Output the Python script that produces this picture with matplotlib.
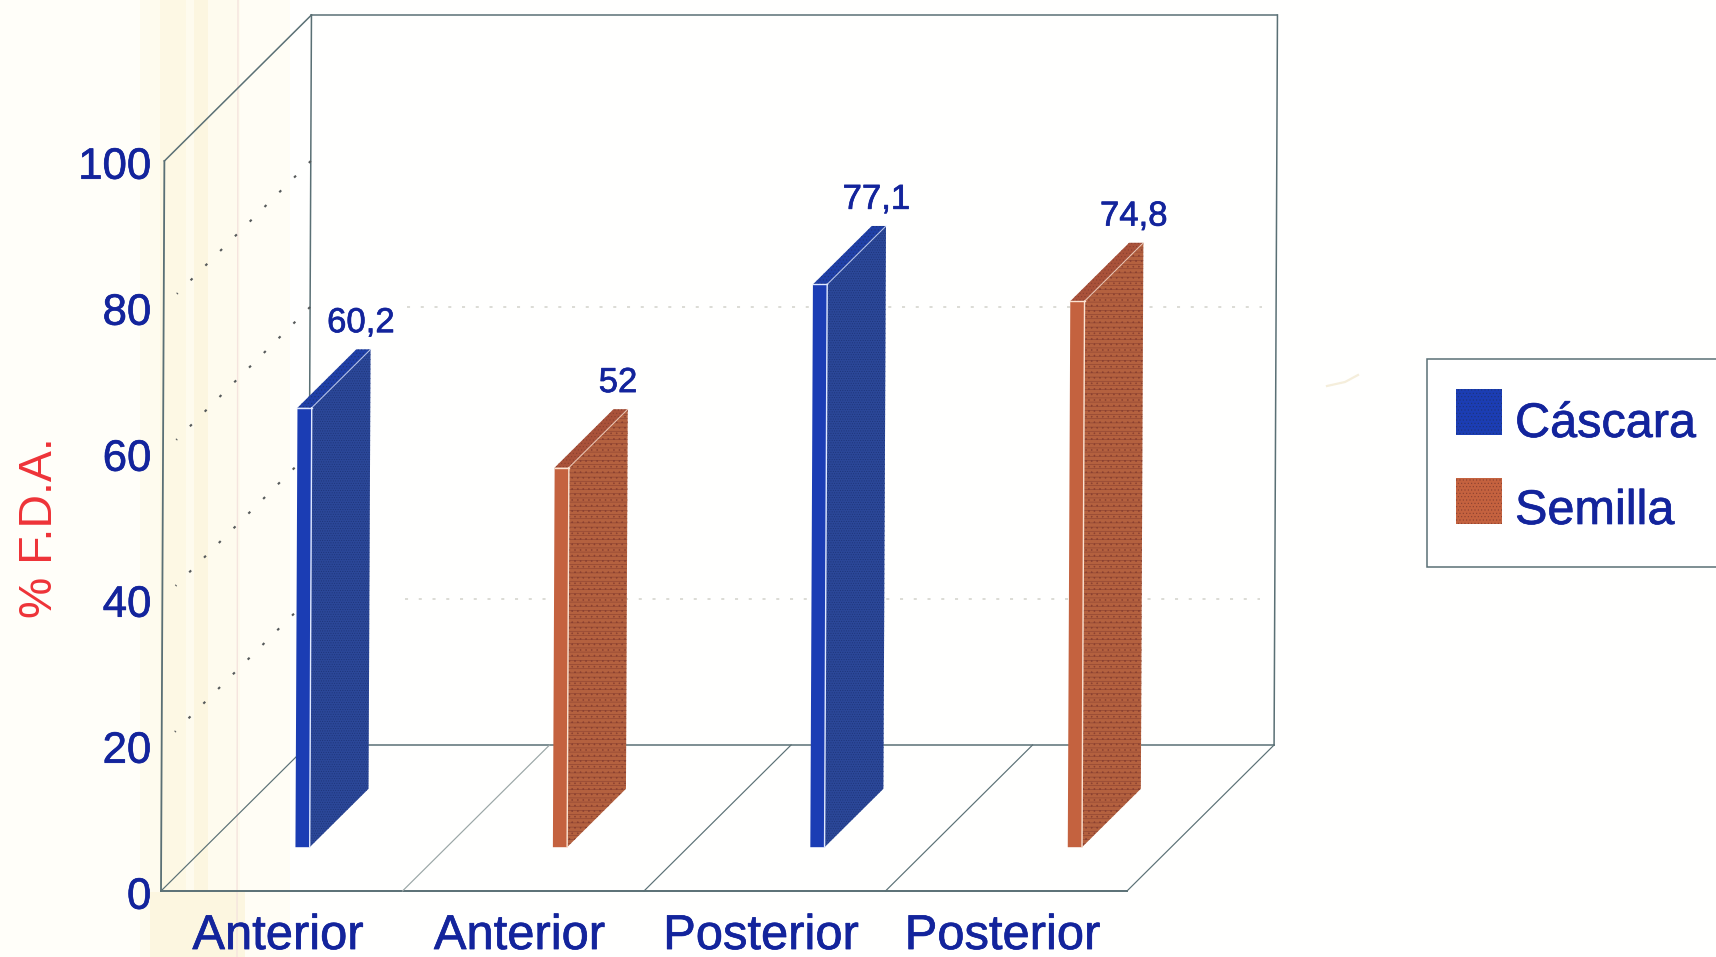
import matplotlib
matplotlib.use('Agg')
import matplotlib.pyplot as plt
import matplotlib.patheffects as pe
from matplotlib.patches import Polygon, Rectangle

# data
categories = ['Anterior', 'Anterior', 'Posterior', 'Posterior']
values = [60.2, 52, 77.1, 74.8]
value_labels = ['60,2', '52', '77,1', '74,8']
series = ['Cáscara', 'Semilla', 'Cáscara', 'Semilla']
legend_names = ['Cáscara', 'Semilla']
y_ticks = [0, 20, 40, 60, 80, 100]
wall_grid = [20, 40, 60, 80]
back_grid = [20, 60]

plt.rcParams['font.family'] = ['Liberation Sans', 'DejaVu Sans']
plt.rcParams['hatch.linewidth'] = 0.4

NAVY = '#13249c'
RED = '#ee3338'
FRAME = '#5a7075'
COLORS = {
    'Cáscara': dict(front='#1b3db4', side='#2b4798', top='#1f3fa6', grain='#1d3478', seam='#dfe8ff',
                    texture='.......'),
    'Semilla': dict(front='#c4623f', side='#b4613f', top='#a9523a', grain='#8a4030', seam='#fbe3d2',
                    texture='----...'),
}
# thickens glyphs a little, the print is heavy
HEAVY = [pe.withStroke(linewidth=0.5, foreground=NAVY)]

fig = plt.figure(figsize=(17.16, 9.57), dpi=100, facecolor='#fffefc')

# paper tone behind everything, in pixels
bg = fig.add_axes([0, 0, 1, 1], zorder=0)
bg.set_xlim(0, 1716)
bg.set_ylim(957, 0)
bg.axis('off')
bg.add_patch(Rectangle((0, 0), 140, 957, color='#fffef9', lw=0))
bg.add_patch(Rectangle((140, 0), 100, 957, color='#fefbee', lw=0))
bg.add_patch(Rectangle((160, 0), 26, 957, color='#fdf8e4', lw=0))
bg.add_patch(Rectangle((194, 0), 14, 957, color='#fcf6e0', lw=0))
bg.add_patch(Rectangle((240, 0), 50, 957, color='#fffdf5', lw=0))
bg.add_patch(Rectangle((150, 892), 95, 65, color='#fcf6e0', lw=0))
bg.add_patch(Rectangle((290, 0), 1426, 957, color='#fffffe', lw=0))
bg.plot([238, 237], [0, 957], color='#f5e4de', lw=1)
bg.plot([1327, 1345, 1358], [386, 382, 375], color='#f5eedb', lw=1.6)

# chart axes: x in category units, y in % units, front wall of the box
ax = fig.add_axes([161 / 1716, 66 / 957, 966 / 1716, 730 / 957], zorder=1)
ax.set_xlim(0, 4)
ax.set_ylim(0, 100)
ax.axis('off')
ax.patch.set_alpha(0)

DX = 0.609   # oblique shift of full depth, in category units
DY = 20.0    # same, in % units
LEAN = 0.00014  # slight lean of the verticals


def project(x, y, d=0.0):
    return x + d * DX + y * LEAN, y + d * DY


def frame_line(p, q, color=FRAME, lw=1.1, z=2):
    a = project(*p)
    b = project(*q)
    ax.plot([a[0], b[0]], [a[1], b[1]], color=color, lw=lw, clip_on=False, zorder=z,
            solid_capstyle='projecting')


# walls and floor
frame_line((0, 0, 0), (0, 100, 0), lw=1.3)
frame_line((0, 100, 0), (0, 100, 1))
frame_line((0, 100, 1), (4, 100, 1))
frame_line((0, 100, 1), (0, 0, 1))
frame_line((4, 100, 1), (4, 0, 1))
frame_line((0, 0, 1), (4, 0, 1))
frame_line((0, 0, 0), (4, 0, 0), lw=1.4)
for i in range(5):
    frame_line((i, 0, 0), (i, 0, 1), color='#9aa6a6' if i == 1 else FRAME, lw=0.85)

# dotted grid on the left wall and the back wall
for v in wall_grid:
    a = project(0, v, 1)
    b = project(0, v, 0.09)
    ax.plot([a[0], b[0]], [a[1], b[1]], color='#55595a', lw=1.5, clip_on=False, zorder=2,
            linestyle=(0, (1.3, 8.7)))
for v in back_grid:
    a = project(0.40, v, 1)
    b = project(4, v, 1)
    ax.plot([a[0], b[0] - 0.06], [a[1], b[1]], color='#d2d2cb', lw=1.1, clip_on=False, zorder=2,
            linestyle=(0, (2, 7)))

# bars
bar_start = 0.374
bar_step = 1.066
bar_w = 0.059
d0, d1 = 0.30, 0.70

for i, (val, lab, ser) in enumerate(zip(values, value_labels, series)):
    c = COLORS[ser]
    x0 = bar_start + i * bar_step
    x1 = x0 + bar_w
    front = [project(x0, 0, d0), project(x1, 0, d0), project(x1, val, d0), project(x0, val, d0)]
    side = [project(x1, 0, d0), project(x1, 0, d1), project(x1, val, d1), project(x1, val, d0)]
    top = [project(x0, val, d0), project(x1, val, d0), project(x1, val, d1), project(x0, val, d1)]
    ax.add_patch(Polygon(side, closed=True, facecolor=c['side'], edgecolor=c['grain'], lw=0,
                         hatch=c['texture'], clip_on=False, zorder=3))
    ax.add_patch(Polygon(top, closed=True, facecolor=c['top'], edgecolor=c['grain'], lw=0,
                         hatch='.....', clip_on=False, zorder=3))
    ax.add_patch(Polygon(front, closed=True, facecolor=c['front'], lw=0, clip_on=False, zorder=3))
    # light seams along the near edges
    ax.plot([front[1][0], front[2][0]], [front[1][1], front[2][1]], color=c['seam'], lw=1.0,
            clip_on=False, zorder=4)
    ax.plot([front[3][0], front[2][0]], [front[3][1], front[2][1]], color=c['seam'], lw=1.0,
            clip_on=False, zorder=4)
    ax.plot([front[2][0], side[2][0]], [front[2][1], side[2][1]], color=c['seam'], lw=0.8, alpha=0.7,
            clip_on=False, zorder=4)
    lx, ly = project(x1, val, d1)
    ax.text(lx - 0.04, ly + 3.65, lab, color=NAVY, fontsize=25, ha='center', va='center', zorder=5,
            path_effects=HEAVY)

# axis labels
for v in y_ticks:
    ax.text(-0.04, v - 0.85, str(v), color=NAVY, fontsize=31.5, ha='right', va='center', clip_on=False,
            path_effects=HEAVY)
for i, name in enumerate(categories):
    ax.text(i + 0.484, -7.95, name, color=NAVY, fontsize=35.2, ha='center', va='baseline', clip_on=False,
            path_effects=HEAVY)
ax.text(-0.50, 49.8, '% F.D.A.', color=RED, fontsize=33.5, rotation=90, ha='center', va='center',
        clip_on=False)

# legend box runs off the right side
top_ax = fig.add_axes([0, 0, 1, 1], zorder=2)
top_ax.set_xlim(0, 1716)
top_ax.set_ylim(957, 0)
top_ax.axis('off')
top_ax.patch.set_alpha(0)
top_ax.add_patch(Rectangle((1427, 359), 320, 208, facecolor='white', edgecolor=FRAME, lw=1.1))
for name, sy, by in zip(legend_names, [389, 478], [437, 524]):
    c = COLORS[name]
    top_ax.add_patch(Rectangle((1456, sy), 46, 46, facecolor=c['front'], edgecolor=c['grain'], lw=0,
                               hatch='.....'))
    top_ax.text(1515, by, name, color=NAVY, fontsize=35, ha='left', va='baseline', path_effects=HEAVY)

fig.savefig('out.png', dpi=100, facecolor=fig.get_facecolor())
